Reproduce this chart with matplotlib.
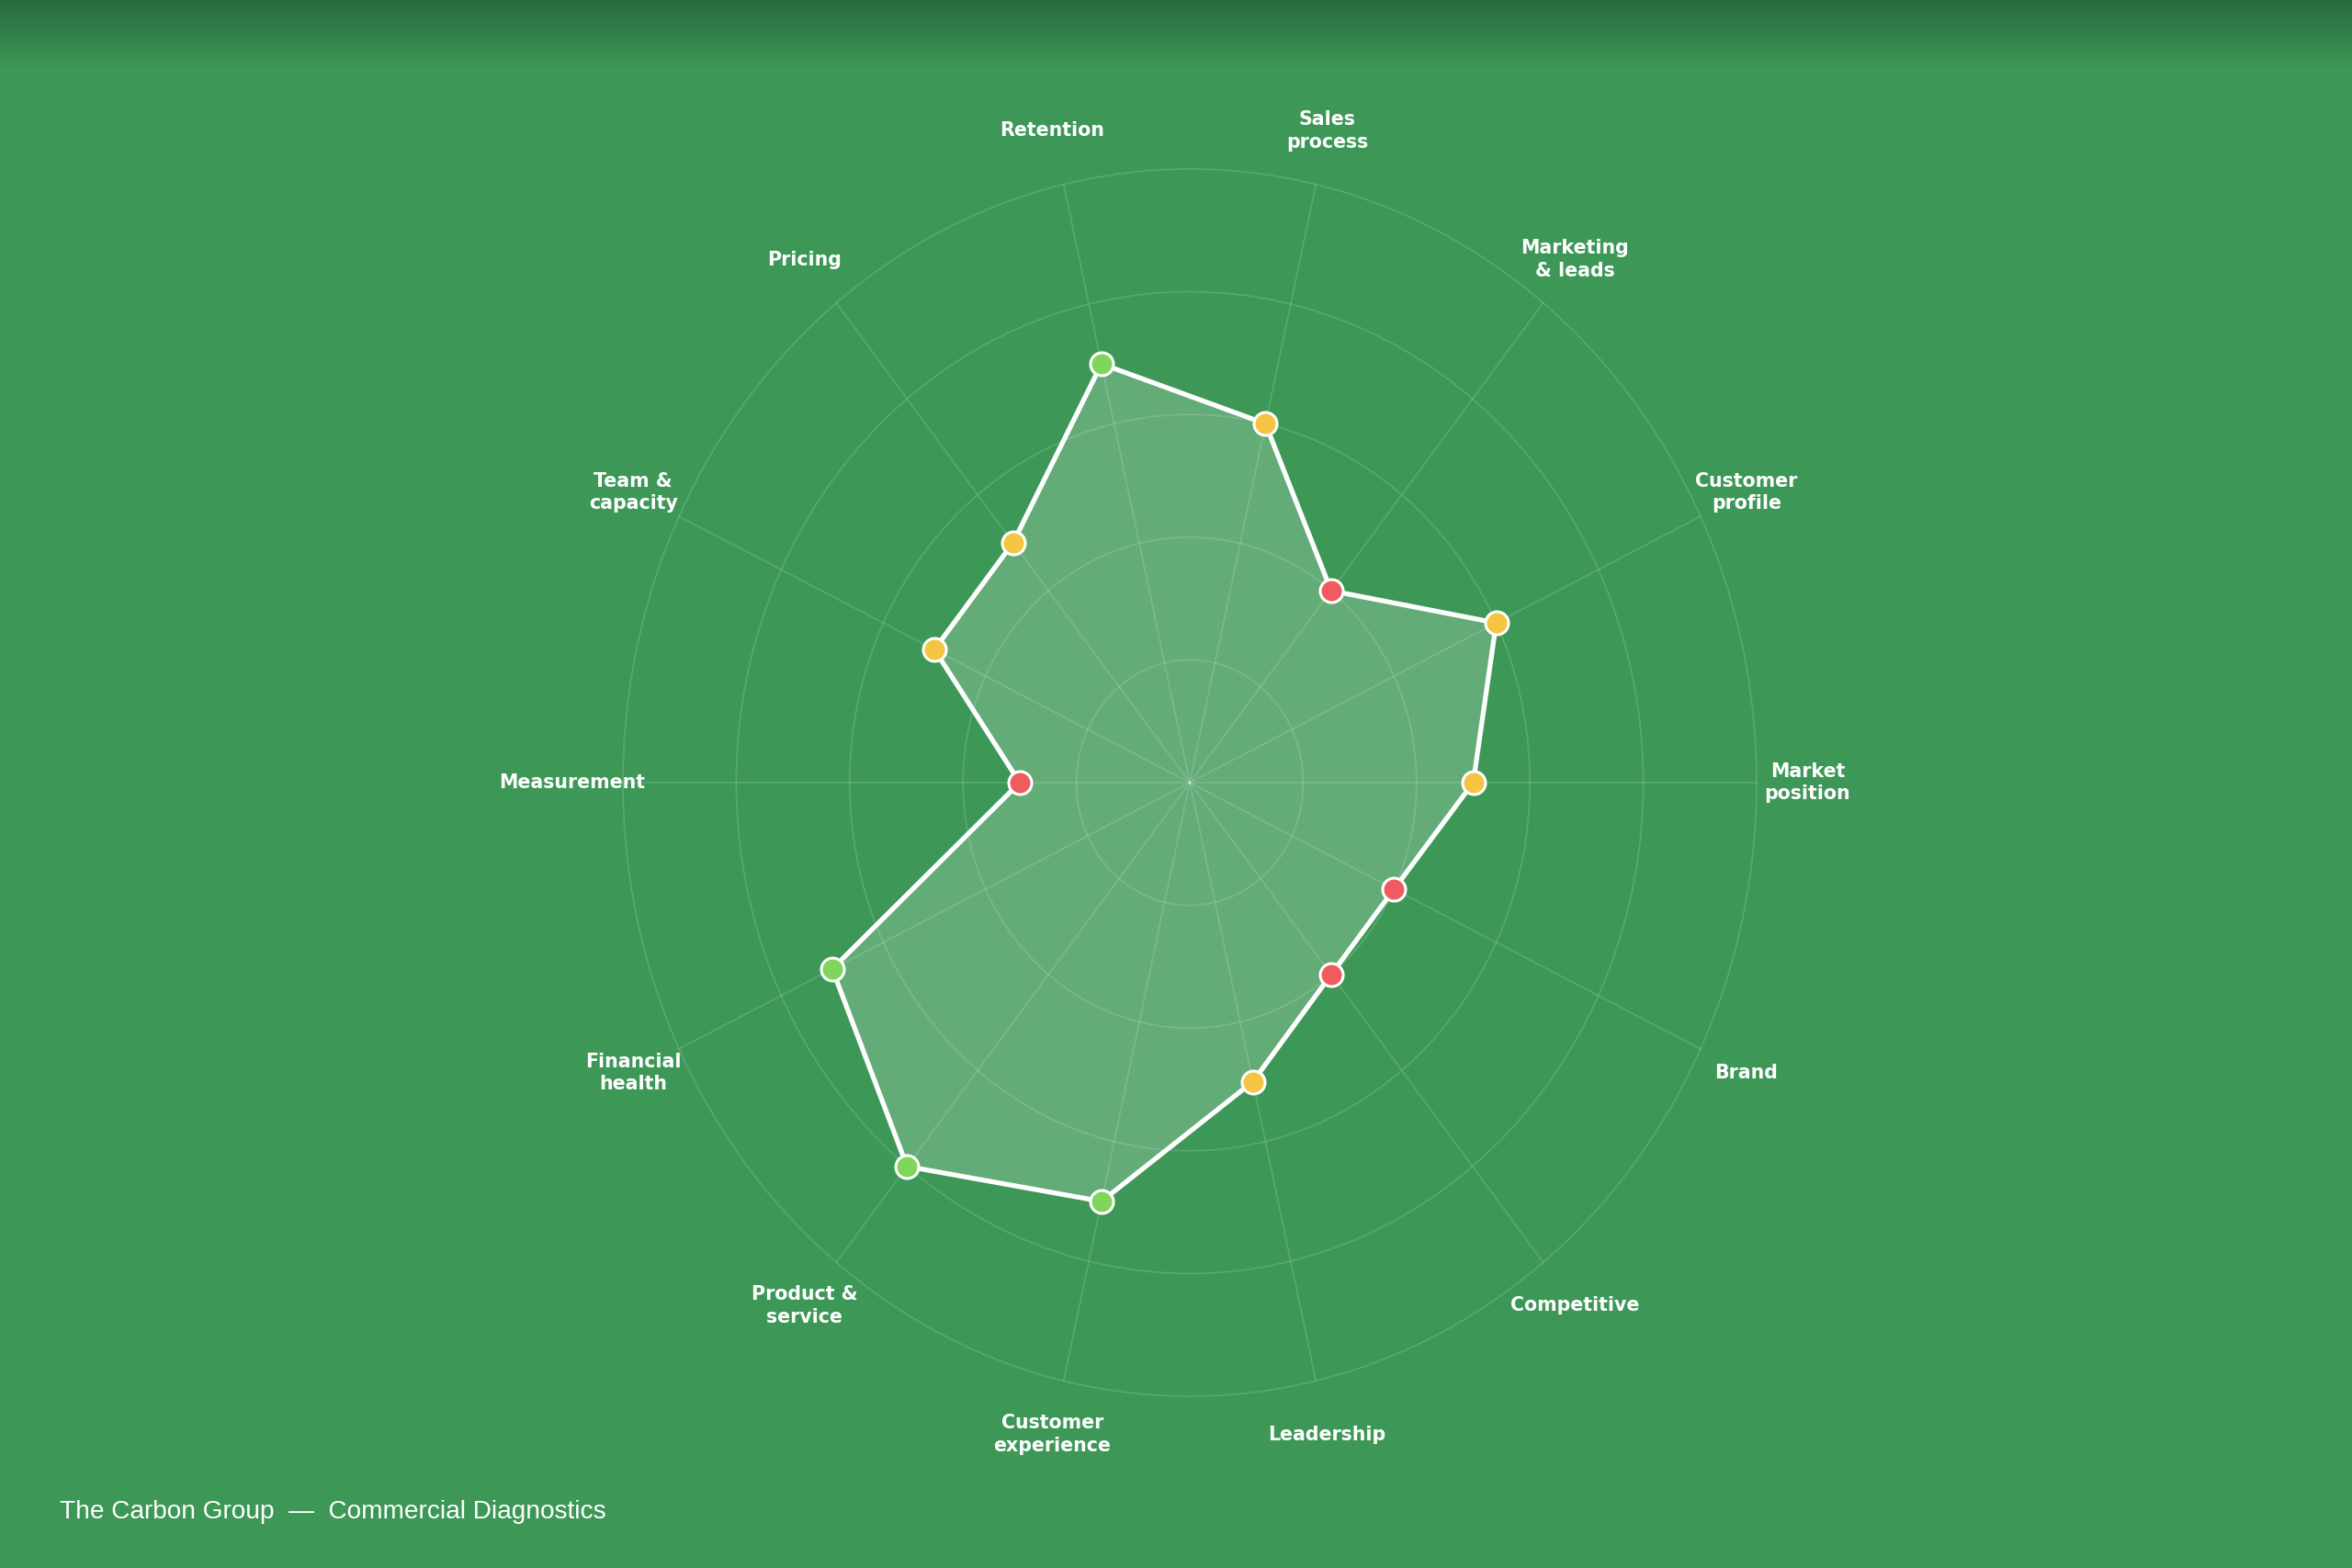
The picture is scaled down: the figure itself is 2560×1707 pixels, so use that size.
"""Commercial diagnostics radar chart for The Carbon Group."""

import matplotlib

matplotlib.use("Agg")
import matplotlib.pyplot as plt
import numpy as np
from matplotlib.colors import LinearSegmentedColormap

CATEGORIES = [
    "Market\nposition",
    "Customer\nprofile",
    "Marketing\n& leads",
    "Sales\nprocess",
    "Retention",
    "Pricing",
    "Team &\ncapacity",
    "Measurement",
    "Financial\nhealth",
    "Product &\nservice",
    "Customer\nexperience",
    "Leadership",
    "Competitive",
    "Brand",
]
SCORES = [2.5, 3.0, 2.0, 3.0, 3.5, 2.5, 2.5, 1.5, 3.5, 4.0, 3.5, 2.5, 2.0, 2.0]
RING_LEVELS = [1, 2, 3, 4, 5]
FOOTER = "The Carbon Group  \u2014  Commercial Diagnostics"

BACKGROUND = "#3d9857"
BAND_TOP = "#276a3e"
RED = "#ef5b5f"
YELLOW = "#f5c443"
GREEN = "#7fd65a"


def _score_colour(score: float) -> str:
    if score <= 2.0:
        return RED
    if score < 3.5:
        return YELLOW
    return GREEN


def main() -> None:
    width_px, height_px, dpi = 2560, 1707, 200
    figure = plt.figure(figsize=(width_px / dpi, height_px / dpi), dpi=dpi, facecolor=BACKGROUND)

    # darker band fading down from the top edge
    band_px = 76
    band = figure.add_axes([0, 1 - band_px / height_px, 1, band_px / height_px])
    band_cmap = LinearSegmentedColormap.from_list("band", [BAND_TOP, BACKGROUND])
    band.imshow(np.linspace(0, 1, 256).reshape(-1, 1), aspect="auto", cmap=band_cmap)
    band.set_axis_off()

    # polar axes, slightly taller than wide like the reference
    cx, cy = 1295, 1707 - 852
    rx, ry = 617, 668
    axis = figure.add_axes(
        [(cx - rx) / width_px, (cy - ry) / height_px, 2 * rx / width_px, 2 * ry / height_px],
        projection="polar",
    )
    axis.set_aspect("auto")
    axis.set_facecolor("none")
    axis.spines["polar"].set_visible(False)

    angles = np.linspace(0, 2 * np.pi, len(CATEGORIES), endpoint=False)
    axis.set_ylim(0, max(RING_LEVELS))
    axis.set_xticks(angles, [""] * len(angles))
    axis.set_yticks(RING_LEVELS, [""] * len(RING_LEVELS))
    axis.tick_params(length=0)
    axis.grid(True, color="white", alpha=0.15, linewidth=0.6)
    for line in axis.get_xgridlines() + axis.get_ygridlines():
        line.set_clip_on(False)

    closed_angles = np.append(angles, angles[0])
    closed_scores = np.append(SCORES, SCORES[0])
    axis.fill(closed_angles, closed_scores, color="white", alpha=0.2, linewidth=0, zorder=2)
    axis.plot(closed_angles, closed_scores, color="white", linewidth=1.9, zorder=3)
    for angle, score in zip(angles, SCORES):
        axis.plot(
            angle,
            score,
            marker="o",
            markersize=9,
            markerfacecolor=_score_colour(score),
            markeredgecolor="white",
            markeredgewidth=1.1,
            zorder=4,
            clip_on=False,
        )

    for angle, label in zip(angles, CATEGORIES):
        axis.text(
            angle,
            5.45,
            label,
            ha="center",
            va="center",
            multialignment="center",
            color="white",
            fontsize=7.4,
            fontweight="bold",
            family="DejaVu Sans",
            linespacing=1.3,
            clip_on=False,
        )

    figure.text(
        65 / width_px,
        1 - 1646 / height_px,
        FOOTER,
        ha="left",
        va="center",
        color="white",
        fontsize=10.1,
        family="Liberation Sans",
    )

    figure.savefig("out.png", dpi=dpi, facecolor=BACKGROUND)
    plt.close(figure)


if __name__ == "__main__":
    main()
